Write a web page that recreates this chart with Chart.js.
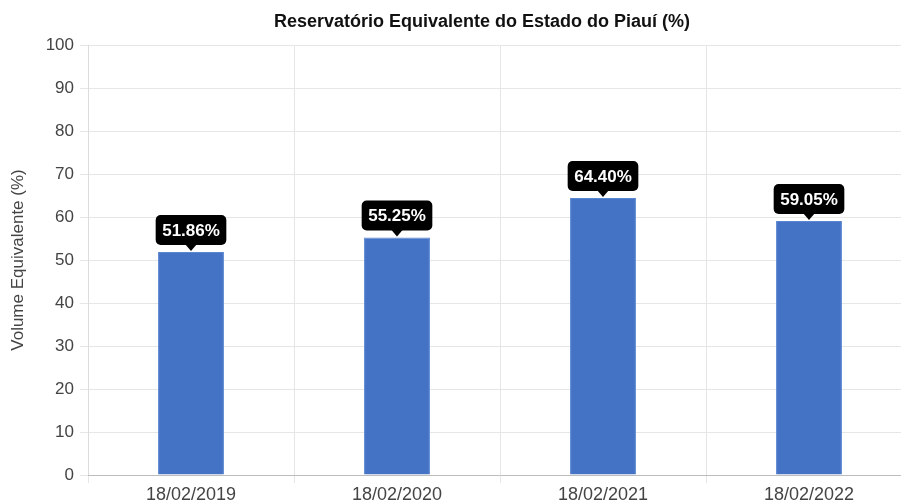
<!DOCTYPE html>
<html><head><meta charset="utf-8">
<script src="https://cdn.jsdelivr.net/npm/chart.js@4/dist/chart.umd.min.js"></script>
<style>
html,body{margin:0;padding:0;overflow:hidden;background:#fff;width:901px;height:504px;}
#wrap{position:absolute;left:0;top:0;width:964px;height:514px;}
</style></head>
<body>
<div id="wrap"><canvas id="c" width="964" height="514"></canvas></div>
<script>
const categories = ["18/02/2019","18/02/2020","18/02/2021","18/02/2022"];
const volumes = [51.86, 55.25, 64.40, 59.05];
const yTicks = [0,10,20,30,40,50,60,70,80,90,100];
const chartTitle = 'Reservatório Equivalente do Estado do Piauí (%)';
const FONT = '"Liberation Sans", Arial, sans-serif';

const titlePlugin = {
  id:'customTitle',
  afterDraw(chart){
    const ctx = chart.ctx;
    ctx.save();
    ctx.font = 'bold 18px ' + FONT;
    ctx.fillStyle = '#111';
    ctx.textAlign = 'center';
    ctx.textBaseline = 'middle';
    ctx.fillText(chartTitle, chart.width/2, 22);
    ctx.restore();
  }
};

const labelPlugin = {
  id:'labelBoxes',
  afterDatasetsDraw(chart){
    const ctx = chart.ctx;
    const meta = chart.getDatasetMeta(0);
    ctx.save();
    ctx.font = 'bold 17px ' + FONT;
    meta.data.forEach((bar,i)=>{
      const txt = volumes[i].toFixed(2)+'%';
      const tw = ctx.measureText(txt).width;
      const w = tw + 13, h = 30;
      const x = bar.x - w/2, bottom = bar.y - 7, top = bottom - h;
      ctx.fillStyle = '#000';
      ctx.beginPath();
      ctx.roundRect(x, top, w, h, 5);
      ctx.fill();
      ctx.beginPath();
      ctx.moveTo(bar.x-6, bottom-1);
      ctx.lineTo(bar.x+6, bottom-1);
      ctx.lineTo(bar.x, bar.y-1);
      ctx.closePath();
      ctx.fill();
      ctx.fillStyle = '#fff';
      ctx.textAlign = 'center';
      ctx.textBaseline = 'middle';
      ctx.fillText(txt, bar.x, top + h/2 + 1);
    });
    ctx.restore();
  }
};

new Chart(document.getElementById('c'), {
  type:'bar',
  data:{labels:categories, datasets:[{data:volumes, backgroundColor:'#4472C4', borderColor:'#5a86d3', borderWidth:1, barPercentage:0.4, categoryPercentage:0.8}]},
  options:{
    responsive:false, animation:false,
    layout:{padding:{left:0,right:52,top:45,bottom:0}},
    plugins:{
      legend:{display:false}, tooltip:{enabled:false}, title:{display:false}
    },
    scales:{
      y:{min:0,max:100,
        afterBuildTicks(s){ s.ticks = yTicks.map(v=>({value:v})); },
        afterFit(s){ s.width = 88; },
        ticks:{color:'#444', font:{family:FONT, size:17}, padding:6},
        grid:{color:'#e6e6e6', tickLength:8},
        border:{color:'#dcdcdc'},
        title:{display:true, text:'Volume Equivalente (%)', color:'#444', font:{family:FONT, size:17}, padding:{top:8,bottom:0}}
      },
      x:{
        afterFit(s){ s.height = 39; },
        ticks:{color:'#444', font:{family:FONT, size:18}, padding:1},
        grid:{color:'#e6e6e6', tickLength:8, offset:true},
        border:{color:'#bdbdbd'}
      }
    }
  },
  plugins:[labelPlugin, titlePlugin]
});
</script>
</body></html>
